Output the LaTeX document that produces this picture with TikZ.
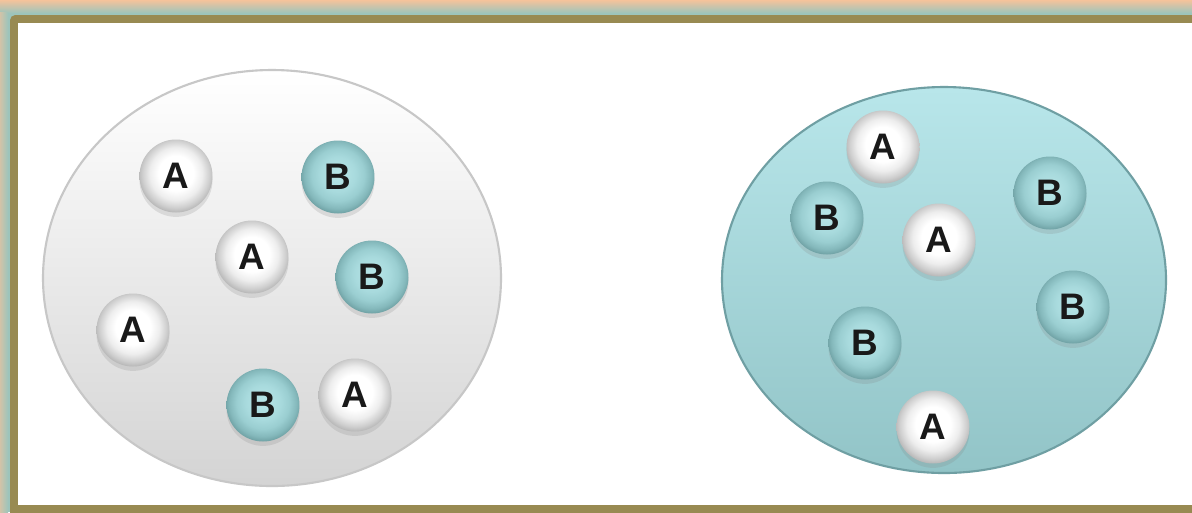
\documentclass[tikz,border=0pt]{standalone}
\usepackage{fontspec}
\setsansfont{Liberation Sans}
\usetikzlibrary{shadows}

\definecolor{edgeorange}{HTML}{F5C39B}
\definecolor{edgeteal}{HTML}{9DC4BB}
\definecolor{frameolive}{HTML}{988A52}
\definecolor{tealtop}{HTML}{B8E6EA}
\definecolor{tealbot}{HTML}{92C4C7}
\definecolor{tealrim}{HTML}{6F9FA3}

\pgfdeclareradialshading{aballshade}{\pgfpoint{0bp}{2.5bp}}{%
    color(0bp)=(white); color(12bp)=(white); color(18bp)=(black!7);
    color(23bp)=(black!19); color(26bp)=(black!28); color(50bp)=(black!28)}
\pgfdeclareradialshading{bballshade}{\pgfpoint{0bp}{2.5bp}}{%
    color(0bp)=(rgb,255:red,184;green,230;blue,232); color(12bp)=(rgb,255:red,168;green,218;blue,221);
    color(18bp)=(rgb,255:red,154;green,206;blue,209); color(23bp)=(rgb,255:red,132;green,184;blue,187);
    color(26bp)=(rgb,255:red,112;green,162;blue,165); color(50bp)=(rgb,255:red,112;green,162;blue,165)}

\tikzset{
    ball/.style={circle, minimum size=1.46cm, inner sep=0pt,
                 font=\sffamily\bfseries\fontsize{21}{24}\selectfont, text=black!90,
                 drop shadow={opacity=0.2, shadow xshift=0pt, shadow yshift=-2.5pt}},
    aball/.style={ball, shading=aballshade},
    bball/.style={ball, shading=bballshade},
}

\begin{document}
\begin{tikzpicture}[x=0.02cm, y=-0.02cm]
                    \useasboundingbox (0,0) rectangle (1192,512);
                    % Frame:
                    \fill[edgeteal] (0,0) rectangle (1192,512);
                    \shade[top color=edgeorange, bottom color=edgeteal] (0,0) rectangle (1192,13);
                    \shade[left color=edgeorange!60!edgeteal, right color=edgeteal] (0,12) rectangle (8,512);
                    \fill[frameolive, rounded corners=3] (10,15) rectangle (1200,520);
                    \fill[white] (18,23) rectangle (1200,505);

                    % Left dish:
                    \shade[top color=white, bottom color=black!17, draw=black!22, line width=1.2]
                        (272,278) ellipse [x radius=229, y radius=208];
                    \node[aball] (la1) at (176,176) {A};
                    \node[bball] (lb1) at (338,177) {B};
                    \node[aball] (la2) at (252,257) {A};
                    \node[bball] (lb2) at (372,277) {B};
                    \node[aball] (la3) at (133,330) {A};
                    \node[bball] (lb3) at (263,405) {B};
                    \node[aball] (la4) at (355,395) {A};

                    % Right dish:
                    \shade[top color=tealtop, bottom color=tealbot, draw=tealrim, line width=1.2]
                        (944,280) ellipse [x radius=222, y radius=193];
                    \node[aball] (ra1) at (883,147) {A};
                    \node[bball] (rb1) at (827,218) {B};
                    \node[aball] (ra2) at (939,240) {A};
                    \node[bball] (rb2) at (1050,193) {B};
                    \node[bball] (rb3) at (1073,307) {B};
                    \node[bball] (rb4) at (865,343) {B};
                    \node[aball] (ra3) at (933,427) {A};
\end{tikzpicture}
\end{document}
